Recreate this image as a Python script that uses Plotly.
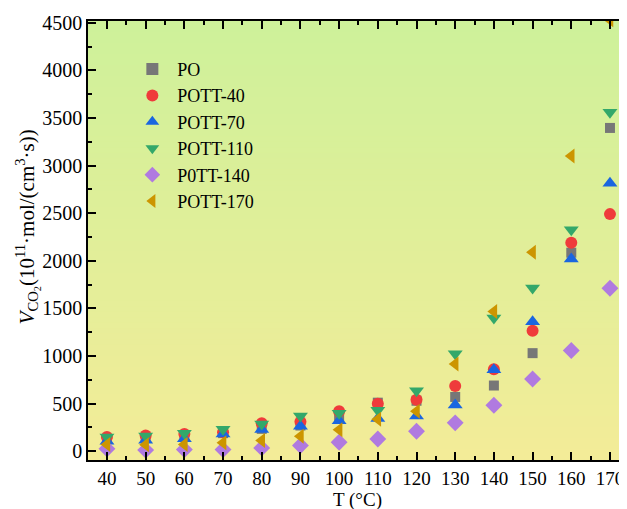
import plotly.graph_objects as go

temps = [40, 50, 60, 70, 80, 90, 100, 110, 120, 130, 140, 150, 160, 170]
po       = [130, 140, 160, 190, 235, 270, 340, 510, 530, 570, 690, 1030, 2085, 3395]
pott40   = [150, 165, 180, 200, 295, 310, 420, 500, 540, 685, 860, 1265, 2190, 2490]
pott70   = [105, 115, 130, 180, 228, 262, 320, 345, 370, 485, 855, 1360, 2020, 2815]
pott110  = [150, 160, 190, 230, 285, 370, 400, 430, 635, 1025, 1400, 1715, 2325, 3560]
pott140  = [25, 12, 17, 17, 35, 60, 95, 128, 210, 298, 483, 758, 1058, 1712]
pott170  = [70, 67, 72, 90, 112, 157, 225, 335, 420, 917, 1468, 2090, 3100, 4530]

names = ["PO", "POTT-40", "POTT-70", "POTT-110", "P0TT-140", "POTT-170"]
series = [po, pott40, pott70, pott110, pott140, pott170]
colors = ["#777777", "#ef3b3b", "#1a66e0", "#33a86a", "#b07ae0", "#cc9500"]
symbols = ["square", "circle", "triangle-up", "triangle-down", "diamond", "triangle-left"]
sizes = [10, 12, 13, 13, 13, 13]

xticks = list(range(40, 171, 10))
yticks = list(range(0, 4501, 500))

fig = go.Figure()
for n, s, c, sym, sz in zip(names, series, colors, symbols, sizes):
    fig.add_trace(go.Scatter(x=temps, y=s, mode="markers", name=n,
                             marker=dict(symbol=sym, color=c, size=sz, line=dict(width=0))))

# vertical gradient background
top = (206, 241, 154)
bot = (243, 236, 152)
N = 80
shapes = []
for i in range(N):
    t = i / (N - 1)
    col = tuple(round(bot[k] + (top[k] - bot[k]) * t) for k in range(3))
    shapes.append(dict(type="rect", xref="paper", yref="paper", x0=0, x1=1,
                       y0=i / N, y1=(i + 1) / N + 0.002, line=dict(width=0),
                       fillcolor="rgb(%d,%d,%d)" % col, layer="below"))

font = "Liberation Serif, Times New Roman, serif"
axis_common = dict(showline=True, linecolor="black", linewidth=1.5, mirror="ticks",
                   ticks="inside", ticklen=8, tickwidth=1.5, tickcolor="black",
                   showgrid=False, zeroline=False, automargin=False)

fig.update_layout(
    width=627, height=509,
    margin=dict(l=80, r=8, t=13, b=57),
    paper_bgcolor="white", plot_bgcolor="rgba(0,0,0,0)",
    shapes=shapes,
    showlegend=True,
    legend=dict(x=0.073, y=0.932, xanchor="left", yanchor="top", bgcolor="rgba(0,0,0,0)",
                font=dict(family=font, size=18, color="black"), itemsizing="constant",
                tracegroupgap=0, itemwidth=40),
    xaxis=dict(range=[35.1, 174.4], tickvals=xticks,
               tickfont=dict(family=font, size=19, color="black"),
               minor=dict(ticks="inside", ticklen=4, tickwidth=1.5, tickcolor="black", dtick=5, tick0=35),
               title=dict(text="T (°C)", font=dict(family=font, size=19, color="black"), standoff=0),
               **axis_common),
    yaxis=dict(range=[-92, 4518], tickvals=yticks,
               tickfont=dict(family=font, size=20, color="black"),
               minor=dict(ticks="inside", ticklen=4, tickwidth=1.5, tickcolor="black", dtick=250, tick0=0),
               **axis_common),
    annotations=[dict(text="<i>V</i><sub>CO<sub>2</sub></sub>(10<sup>11</sup>·mol/(cm<sup>3</sup>·s))",
                      xref="paper", yref="paper", x=-0.113, y=0.53, textangle=-90,
                      showarrow=False, xanchor="center", yanchor="middle",
                      font=dict(family=font, size=21, color="black"))],
)

fig.write_html("out.html")
